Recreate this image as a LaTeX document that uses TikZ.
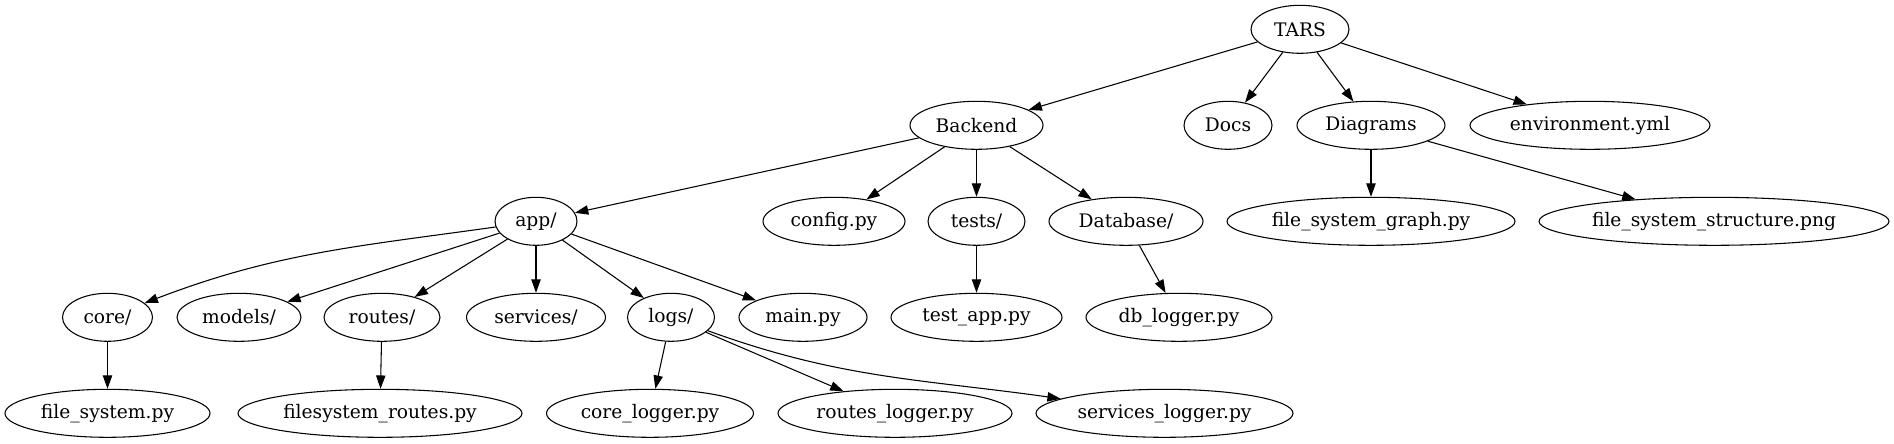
\documentclass[tikz,border=0pt]{standalone}
\usepackage{fontspec}
\setmainfont{DejaVu Serif}
\usetikzlibrary{shapes.geometric,arrows.meta}
\begin{document}
\begin{tikzpicture}[x=0.75pt,y=-0.75pt,
  nd/.style={draw, ellipse, line width=0.8pt, inner sep=0pt, minimum height=36pt,
             font=\fontsize{14pt}{16pt}\selectfont, minimum width=#1*0.75pt},
  edge/.style={draw, line width=0.8pt, -{Triangle[length=10pt,width=7pt]}}]
\useasboundingbox (0,0) rectangle (1894,443);
% rank 1
\node[nd=98]  (tars) at (1300,29.3) {TARS};
% rank 2
\node[nd=133] (backend) at (976.5,125.3) {Backend};
\node[nd=88]  (docs) at (1228,125.3) {Docs};
\node[nd=148] (diagrams) at (1371,125.3) {Diagrams};
\node[nd=240] (env) at (1590,125.3) {environment.yml};
% rank 3
\node[nd=82]  (app) at (536,221.3) {app/};
\node[nd=142] (config) at (834,221.3) {config.py};
\node[nd=97]  (tests) at (976.5,221.3) {tests/};
\node[nd=154] (database) at (1126,221.3) {Database/};
\node[nd=288] (fsg) at (1371,221.3) {file\_system\_graph.py};
\node[nd=350] (fss) at (1714,221.3) {file\_system\_structure.png};
% rank 4
\node[nd=90]  (core) at (107.5,317.3) {core/};
\node[nd=124] (models) at (239,317.3) {models/};
\node[nd=116] (routes) at (382,317.3) {routes/};
\node[nd=139] (services) at (536,317.3) {services/};
\node[nd=87]  (logs) at (671,317.3) {logs/};
\node[nd=128] (mainpy) at (803,317.3) {main.py};
\node[nd=171] (testapp) at (976.5,317.3) {test\_app.py};
\node[nd=186] (dblogger) at (1179,317.3) {db\_logger.py};
% rank 5
\node[nd=205] (filesystem) at (107.5,413.3) {file\_system.py};
\node[nd=284] (fsroutes) at (380,413.3) {filesystem\_routes.py};
\node[nd=207] (corelogger) at (650,413.3) {core\_logger.py};
\node[nd=234] (routeslogger) at (895,413.3) {routes\_logger.py};
\node[nd=257] (serviceslogger) at (1164.5,413.3) {services\_logger.py};
% edges
\draw[edge] (tars) -- (backend);
\draw[edge] (tars) -- (docs);
\draw[edge] (tars) -- (diagrams);
\draw[edge] (tars) -- (env);
\draw[edge] (backend) -- (app);
\draw[edge] (backend) -- (config);
\draw[edge] (backend) -- (tests);
\draw[edge] (backend) -- (database);
\draw[edge] (diagrams) -- (fsg);
\draw[edge] (diagrams) -- (fss);
\draw[edge] (app) to[out=188,in=21] (core);
\draw[edge] (app) -- (models);
\draw[edge] (app) -- (routes);
\draw[edge] (app) -- (services);
\draw[edge] (app) -- (logs);
\draw[edge] (app) -- (mainpy);
\draw[edge] (tests) -- (testapp);
\draw[edge] (database) -- (dblogger);
\draw[edge] (core) -- (filesystem);
\draw[edge] (routes) -- (fsroutes);
\draw[edge] (logs) -- (corelogger);
\draw[edge] (logs) -- (routeslogger);
\draw[edge] (logs) to[out=-20,in=172] (serviceslogger);
\end{tikzpicture}
\end{document}
